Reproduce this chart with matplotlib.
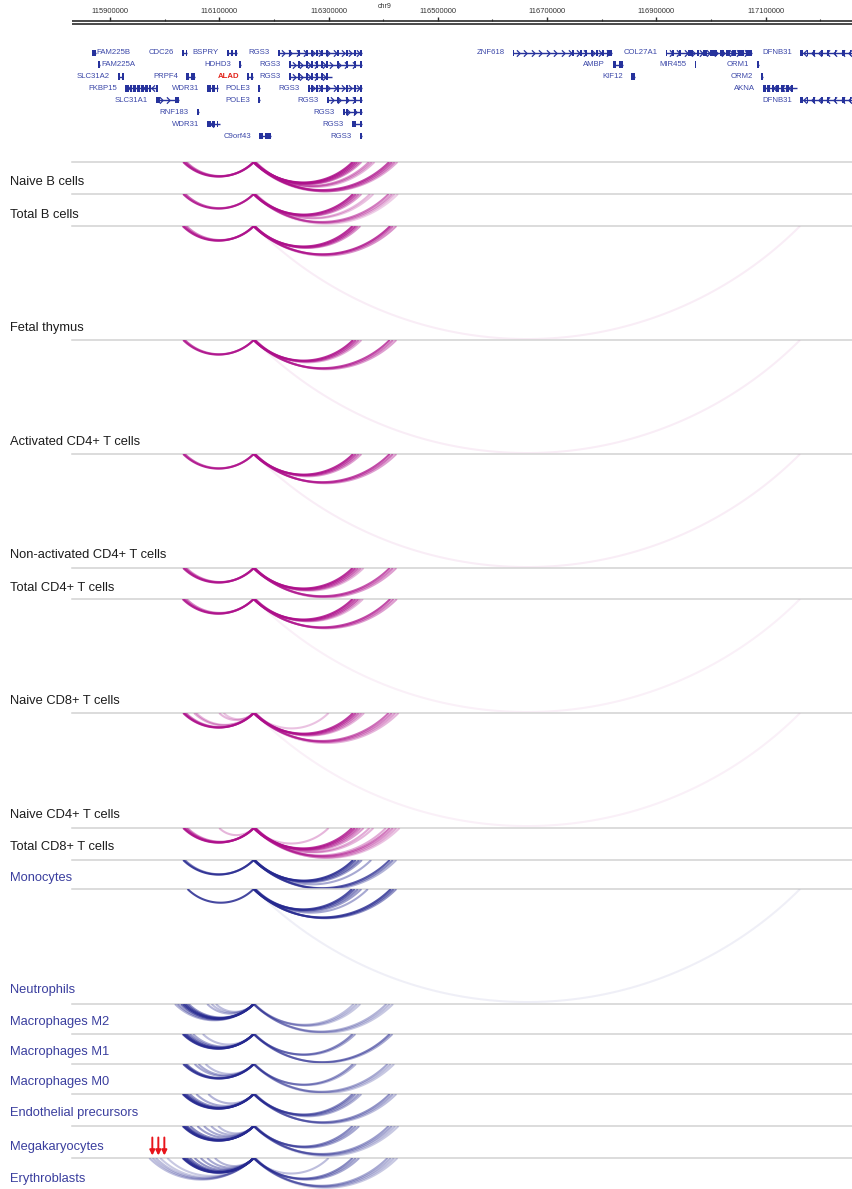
import numpy as np
import matplotlib
matplotlib.use("Agg")
import matplotlib.pyplot as plt
from matplotlib.patches import Rectangle
from matplotlib.path import Path

plt.rcParams['font.family'] = ['Liberation Sans', 'DejaVu Sans']

# ---------------------------------------------------------------- data ----
# genomic window (bp) on chr9
REGION_START = 115830500
REGION_END = 117258000
CHROM = "chr9"

MAJOR_TICKS = [115900000, 116100000, 116300000, 116500000,
               116700000, 116900000, 117100000]
MINOR_TICKS = [116000000, 116200000, 116400000, 116600000,
               116800000, 117000000, 117200000]

# gene models (kb) : name, start, end, strand, row
gene_names = ["FAM225B", "CDC26", "BSPRY", "RGS3", "ZNF618", "COL27A1", "DFNB31",
              "FAM225A", "HDHD3", "RGS3", "AMBP", "MIR455", "ORM1",
              "SLC31A2", "PRPF4", "ALAD", "RGS3", "KIF12", "ORM2",
              "FKBP15", "WDR31", "POLE3", "RGS3", "AKNA",
              "SLC31A1", "POLE3", "RGS3", "DFNB31",
              "RNF183", "RGS3",
              "WDR31", "RGS3",
              "C9orf43", "RGS3"]
gene_starts = [115867.0, 116032.0, 116114.0, 116207.0, 116637.0, 116917.0, 117163.0,
               115878.0, 116136.0, 116227.6, 116820.5, 116970.0, 117084.0,
               115914.6, 116039.0, 116150.7, 116227.6, 116853.4, 117091.3,
               115927.5, 116077.5, 116170.8, 116262.3, 117095.0,
               115984.0, 116170.8, 116297.1, 117163.0,
               116059.0, 116326.4,
               116077.5, 116342.9,
               116172.7, 116357.5]
gene_ends = [115874.0, 116041.0, 116132.0, 116361.2, 116819.0, 117075.0, 117262.0,
             115882.0, 116140.0, 116361.2, 116839.0, 116971.0, 117088.0,
             115923.8, 116055.5, 116161.7, 116306.3, 116860.7, 117095.0,
             115986.0, 116097.6, 116174.5, 116361.2, 117157.0,
             116026.0, 116174.5, 116361.2, 117262.0,
             116063.0, 116361.2,
             116101.0, 116361.2,
             116194.6, 116361.2]
gene_strands = ["-", "-", "+", "+", "+", "+", "-",
                "+", "-", "+", "-", "+", "+",
                "+", "+", "-", "+", "-", "+",
                "-", "-", "-", "+", "-",
                "+", "-", "+", "-",
                "-", "+",
                "-", "+",
                "+", "+"]
gene_rows = [0, 0, 0, 0, 0, 0, 0,
             1, 1, 1, 1, 1, 1,
             2, 2, 2, 2, 2, 2,
             3, 3, 3, 3, 3,
             4, 4, 4, 4,
             5, 5,
             6, 6,
             7, 7]
HIGHLIGHT_GENE = "ALAD"
LABEL_RIGHT_GENES = ["FAM225B", "FAM225A"]

# exon blocks (kb)
RGS3_EXONS = [(116207.0, 116209.5), (116228.5, 116231.0), (116245.0, 116247.5),
              (116259.5, 116262.0), (116268.5, 116271.0), (116277.5, 116280.5),
              (116287.0, 116289.5), (116296.0, 116298.5), (116316.0, 116318.5),
              (116332.5, 116335.0), (116347.0, 116350.0), (116357.5, 116361.2)]
gene_exons = {
    "CDC26": [(116032.0, 116034.5), (116038.5, 116041.0)],
    "BSPRY": [(116114.0, 116117.0), (116121.0, 116124.0), (116129.0, 116132.0)],
    "ZNF618": [(116637.0, 116640.0), (116746.0, 116748.5), (116760.0, 116764.0),
               (116769.0, 116773.0), (116781.0, 116783.0), (116790.0, 116792.5),
               (116801.0, 116803.5), (116810.0, 116819.0)],
    "COL27A1": [(116917.0, 116920.0), (116929.0, 116931.5), (116942.0, 116944.5),
                (116957.0, 116967.0), (116975.0, 116977.5), (116985.0, 116992.5),
                (116998.0, 117011.0), (117016.0, 117023.0), (117027.0, 117034.0),
                (117038.0, 117046.0), (117050.0, 117060.0), (117064.0, 117075.0)],
    "DFNB31": [(117163.0, 117168.0), (117175.0, 117176.5), (117187.5, 117189.0),
               (117202.0, 117204.0), (117213.0, 117215.0), (117226.0, 117228.0),
               (117239.5, 117245.0), (117253.5, 117255.5)],
    "AMBP": [(116820.5, 116826.0), (116832.0, 116839.0)],
    "SLC31A2": [(115914.6, 115917.0), (115921.5, 115923.8)],
    "PRPF4": [(116039.0, 116045.0), (116048.5, 116055.5)],
    "ALAD": [(116150.7, 116154.5), (116157.5, 116161.7)],
    "FKBP15": [(115927.5, 115934.0), (115936.0, 115941.0), (115943.0, 115948.0),
               (115950.0, 115955.0), (115957.5, 115962.0), (115965.0, 115969.0),
               (115971.0, 115974.0), (115984.0, 115986.0)],
    "WDR31": [(116077.5, 116084.0), (116087.0, 116093.0), (116095.0, 116097.6)],
    "AKNA": [(117095.0, 117100.0), (117103.0, 117108.0), (117111.0, 117116.0),
             (117119.0, 117125.0), (117128.0, 117134.0), (117137.0, 117143.0),
             (117146.0, 117149.0)],
    "SLC31A1": [(115984.0, 115991.0), (116019.0, 116026.0)],
    "C9orf43": [(116172.7, 116180.0), (116184.0, 116194.6)],
}

# chromatin interactions per cell type (kb): start, end, score
naive_b_cells = [
    (116034, 116163, .85), (116037, 116163, .70), (116040, 116164, .55),
    (116163, 116344, .85), (116163, 116348, .75), (116164, 116352, .70),
    (116162, 116356, .55), (116165, 116360, .45),
    (116163, 116374, .45), (116166, 116379, .40), (116163, 116384, .30),
    (116163, 116411, .75), (116164, 116416, .65), (116162, 116421, .50),
    (116167, 116426, .35)]
total_b_cells = [
    (116034, 116163, .85), (116038, 116163, .65),
    (116163, 116345, .85), (116164, 116350, .70), (116162, 116355, .55),
    (116165, 116360, .40), (116163, 116376, .30), (116167, 116382, .25),
    (116163, 116410, .55), (116164, 116416, .40), (116166, 116421, .30),
    (116163, 116427, .20)]
fetal_thymus = [
    (116033, 116163, .85), (116036, 116163, .70), (116040, 116164, .50),
    (116163, 116344, .85), (116164, 116349, .75), (116162, 116353, .60),
    (116165, 116358, .45),
    (116163, 116413, .80), (116165, 116418, .60), (116163, 116424, .45),
    (116164, 117163, .07)]
activated_cd4_t_cells = [
    (116034, 116163, .85), (116037, 116163, .70),
    (116163, 116345, .85), (116163, 116350, .70), (116165, 116355, .55),
    (116163, 116360, .35),
    (116163, 116412, .75), (116165, 116418, .55), (116166, 116424, .40),
    (116164, 117163, .07)]
non_activated_cd4_t_cells = [
    (116034, 116163, .85), (116037, 116163, .65),
    (116163, 116345, .85), (116164, 116350, .70), (116165, 116355, .55),
    (116163, 116360, .40),
    (116163, 116412, .75), (116165, 116418, .60), (116166, 116424, .40),
    (116164, 117163, .07)]
total_cd4_t_cells = [
    (116034, 116163, .85), (116037, 116163, .70), (116040, 116164, .50),
    (116163, 116344, .85), (116164, 116349, .75), (116162, 116354, .60),
    (116165, 116359, .45), (116163, 116364, .30),
    (116163, 116412, .70), (116165, 116418, .55), (116164, 116424, .40)]
naive_cd8_t_cells = [
    (116033, 116163, .85), (116036, 116163, .70), (116040, 116163, .50),
    (116163, 116344, .85), (116163, 116349, .70), (116165, 116354, .60),
    (116163, 116358, .40), (116166, 116363, .30),
    (116163, 116413, .75), (116164, 116419, .55), (116166, 116425, .40),
    (116164, 117163, .06)]
naive_cd4_t_cells = [
    (116034, 116163, .85), (116036, 116163, .70), (116039, 116164, .55),
    (116054, 116163, .35), (116058, 116163, .30),
    (116100, 116162, .30), (116108, 116163, .25), (116164, 116300, .25),
    (116163, 116345, .80), (116163, 116350, .70), (116165, 116355, .55),
    (116163, 116360, .40), (116166, 116365, .30),
    (116163, 116410, .60), (116164, 116416, .50), (116166, 116422, .40),
    (116163, 116428, .30),
    (116164, 117163, .06)]
total_cd8_t_cells = [
    (116034, 116163, .85), (116036, 116163, .75), (116039, 116164, .60),
    (116042, 116163, .45),
    (116100, 116163, .30), (116163, 116300, .30),
    (116163, 116343, .80), (116163, 116348, .75), (116165, 116353, .60),
    (116164, 116358, .50), (116166, 116364, .40),
    (116163, 116375, .35), (116167, 116382, .30),
    (116163, 116405, .35), (116164, 116412, .55), (116166, 116418, .45),
    (116163, 116424, .35), (116165, 116430, .25)]
monocytes = [
    (116034, 116163, .85), (116037, 116163, .60),
    (116163, 116345, .85), (116164, 116350, .70), (116165, 116356, .60),
    (116163, 116361, .45), (116163, 116378, .40),
    (116163, 116412, .75), (116165, 116418, .55), (116164, 116424, .35)]
neutrophils = [
    (116042, 116163, .85),
    (116163, 116343, .80), (116164, 116348, .70), (116166, 116354, .55),
    (116163, 116360, .45), (116163, 116372, .40),
    (116163, 116414, .80), (116164, 116419, .65), (116166, 116424, .50),
    (116164, 117163, .07)]
macrophages_m2 = [
    (116019, 116163, .35), (116024, 116163, .45), (116030, 116163, .70),
    (116034, 116163, .80), (116037, 116163, .70), (116040, 116164, .60),
    (116044, 116163, .50),
    (116078, 116163, .35), (116086, 116163, .30), (116094, 116163, .30),
    (116163, 116346, .30), (116163, 116352, .30), (116165, 116358, .25),
    (116163, 116406, .35), (116164, 116412, .30), (116163, 116418, .25)]
macrophages_m1 = [
    (116033, 116163, .80), (116035, 116163, .75), (116038, 116163, .70),
    (116041, 116164, .60), (116046, 116163, .50), (116052, 116163, .40),
    (116070, 116163, .30),
    (116163, 116344, .55), (116164, 116349, .40),
    (116163, 116412, .60), (116165, 116417, .40)]
macrophages_m0 = [
    (116034, 116163, .80), (116037, 116163, .70), (116040, 116164, .60),
    (116055, 116163, .40), (116062, 116163, .40), (116075, 116163, .30),
    (116163, 116345, .50), (116164, 116350, .35),
    (116163, 116408, .40), (116165, 116414, .30), (116163, 116420, .25)]
endothelial_precursors = [
    (116033, 116163, .85), (116035, 116163, .80), (116038, 116163, .70),
    (116041, 116164, .60), (116046, 116163, .50), (116058, 116163, .40),
    (116080, 116163, .35),
    (116163, 116344, .55), (116164, 116349, .50), (116165, 116355, .40),
    (116163, 116360, .35),
    (116163, 116412, .50), (116164, 116418, .40), (116166, 116424, .30)]
megakaryocytes = [
    (116033, 116163, .85), (116035, 116163, .80), (116038, 116163, .75),
    (116041, 116164, .65), (116047, 116163, .55), (116060, 116163, .45),
    (116072, 116163, .40), (116085, 116163, .35), (116098, 116163, .30),
    (116163, 116344, .55), (116164, 116350, .45), (116165, 116356, .40),
    (116163, 116410, .45), (116164, 116416, .40), (116166, 116422, .30),
    (116163, 116428, .25)]
erythroblasts = [
    (115972, 116163, .30), (115978, 116163, .30), (115984, 116163, .30),
    (115992, 116163, .25), (116005, 116163, .25),
    (116033, 116163, .85), (116035, 116163, .80), (116038, 116163, .75),
    (116041, 116164, .70), (116046, 116163, .60), (116055, 116163, .50),
    (116066, 116163, .45), (116078, 116163, .40), (116092, 116163, .35),
    (116163, 116300, .30),
    (116163, 116344, .55), (116164, 116350, .45), (116165, 116356, .40),
    (116163, 116408, .40), (116164, 116414, .35), (116166, 116420, .30),
    (116163, 116426, .25)]

track_labels = ["Naive B cells", "Total B cells", "Fetal thymus",
                "Activated CD4+ T cells", "Non-activated CD4+ T cells",
                "Total CD4+ T cells", "Naive CD8+ T cells", "Naive CD4+ T cells",
                "Total CD8+ T cells", "Monocytes", "Neutrophils",
                "Macrophages M2", "Macrophages M1", "Macrophages M0",
                "Endothelial precursors", "Megakaryocytes", "Erythroblasts"]
track_data = [naive_b_cells, total_b_cells, fetal_thymus, activated_cd4_t_cells,
              non_activated_cd4_t_cells, total_cd4_t_cells, naive_cd8_t_cells,
              naive_cd4_t_cells, total_cd8_t_cells, monocytes, neutrophils,
              macrophages_m2, macrophages_m1, macrophages_m0,
              endothelial_precursors, megakaryocytes, erythroblasts]
track_lineage = ["lymphoid"] * 9 + ["myeloid"] * 8

# marked anchors (kb) in the megakaryocyte track
arrow_positions = [115977.5, 115988.5, 115999.5]

# ------------------------------------------------------------- styling ----
W, H = 852, 1189
LEFT_PX, RIGHT_PX = 72, 852
PX_PER_BP = (RIGHT_PX - LEFT_PX) / (REGION_END - REGION_START)

ARC_COLORS = {"lymphoid": "#AD0E8A", "myeloid": "#25288F"}
LABEL_COLORS = {"lymphoid": "#1c1c1c", "myeloid": "#3A3E9E"}
GENE_COLOR = "#26329C"
GENE_LABEL_COLOR = "#3B47A8"
HIGHLIGHT_COLOR = "#E2231A"
BASELINE_COLOR = "#d2d2d2"

# vertical layout (pixels from the top)
track_tops = [162, 194, 226, 340, 454, 568, 599, 713, 828, 860, 889,
              1004, 1034, 1064, 1094, 1126, 1158]
label_centres = [182, 215, 328, 442, 555, 588, 701, 815, 847, 878, 990,
                 1022, 1052, 1082, 1113, 1147, 1179]

fig = plt.figure(figsize=(W / 100, H / 100), dpi=100)


def px_axes(y0, h, x0=LEFT_PX, w=RIGHT_PX - LEFT_PX):
    ax = fig.add_axes([x0 / W, 1 - (y0 + h) / H, w / W, h / H])
    ax.set_xlim(REGION_START, REGION_END)
    ax.set_ylim(h, 0)
    ax.axis("off")
    return ax


def bp_per_px(n):
    return n / PX_PER_BP


# --------------------------------------------------------------- ruler ----
ax_r = px_axes(0, 40)
ax_r.hlines([21.2, 24.2], REGION_START, REGION_END, color="#2a2a2a", lw=1.2)
ax_r.vlines(MAJOR_TICKS, 16.5, 21.2, color="#2a2a2a", lw=1.0)
ax_r.vlines(MINOR_TICKS, 19.0, 21.2, color="#2a2a2a", lw=0.8)
for t in MAJOR_TICKS:
    ax_r.text(t, 11.5, f"{t}", ha="center", va="center", fontsize=5.4,
              color="#333333")
ax_r.text((385 - LEFT_PX) / (RIGHT_PX - LEFT_PX), 34 / 40, CHROM,
          transform=ax_r.transAxes, ha="center", va="center", fontsize=5,
          color="#333333")

# --------------------------------------------------------------- genes ----
ax_g = px_axes(40, 110)
chev_r = Path([(-0.5, 1.0), (0.5, 0.0), (-0.5, -1.0)],
              [Path.MOVETO, Path.LINETO, Path.LINETO])
chev_l = Path([(0.5, 1.0), (-0.5, 0.0), (0.5, -1.0)],
              [Path.MOVETO, Path.LINETO, Path.LINETO])
min_w = bp_per_px(1.8)
for name, s, e, strand, row in zip(gene_names, gene_starts, gene_ends,
                                   gene_strands, gene_rows):
    s_bp, e_bp = s * 1000, e * 1000
    y = 12.7 + 11.9 * row
    ax_g.plot([s_bp, e_bp], [y, y], color=GENE_COLOR, lw=1.0,
              solid_capstyle="butt")
    span_px = (e_bp - s_bp) * PX_PER_BP
    if span_px > 12:
        xs = np.arange(s_bp + bp_per_px(5), e_bp - bp_per_px(3), bp_per_px(7.5))
        ax_g.plot(xs, np.full(len(xs), y), ls="none",
                  marker=chev_r if strand == "+" else chev_l, ms=4.6,
                  mew=0.9, mfc="none", mec=GENE_COLOR)
    if name == "RGS3":
        blocks = [(a, b) for a, b in RGS3_EXONS if b > s and a < e]
        blocks = [(max(a, s), min(b, e)) for a, b in blocks]
        blocks.append((s, s + 1.0))
    else:
        blocks = gene_exons.get(name, [(s, e)])
    for a, b in blocks:
        a_bp, b_bp = a * 1000, b * 1000
        wdt = max(b_bp - a_bp, min_w)
        ax_g.add_patch(Rectangle((a_bp, y - 3.2), wdt, 6.4, color=GENE_COLOR,
                                 lw=0))
    if name == HIGHLIGHT_GENE:
        kw = dict(color=HIGHLIGHT_COLOR, fontweight="bold")
    else:
        kw = dict(color=GENE_LABEL_COLOR)
    if name in LABEL_RIGHT_GENES:
        ax_g.text(e_bp + bp_per_px(1), y, name, ha="left", va="center",
                  fontsize=5.6, **kw)
    else:
        ax_g.text(s_bp - bp_per_px(8), y, name, ha="right", va="center",
                  fontsize=5.6, **kw)

# ---------------------------------------------------------- arc tracks ----
theta = np.linspace(-np.pi / 4, np.pi / 4, 90)
track_bottoms = track_tops[1:] + [H]
for i, (label, data, lineage) in enumerate(zip(track_labels, track_data,
                                               track_lineage)):
    top, bottom = track_tops[i], track_bottoms[i]
    ax = px_axes(top, bottom - top)
    ax.plot([REGION_START, REGION_END], [0, 0], color=BASELINE_COLOR,
            lw=1.1, clip_on=False, zorder=1)
    colour = ARC_COLORS[lineage]
    for s, e, score in data:
        s_bp, e_bp = s * 1000, e * 1000
        chord = (e_bp - s_bp) * PX_PER_BP
        radius = chord / (2 * np.sin(np.pi / 4))
        xs = (s_bp + e_bp) / 2 + np.sin(theta) * radius / PX_PER_BP
        ys = radius * np.cos(theta) - radius * np.cos(np.pi / 4)
        ax.plot(xs, ys, color=colour, alpha=score, lw=1.5,
                solid_capstyle="butt", zorder=2)
    fig.text(10 / W, 1 - label_centres[i] / H, label, fontsize=9.3,
             va="center", ha="left", color=LABEL_COLORS[lineage])
    if label == "Megakaryocytes":
        for a in arrow_positions:
            ax.annotate("", xy=(a * 1000, 29.5), xytext=(a * 1000, 11.5),
                        arrowprops=dict(arrowstyle="-|>", color="#E8141B",
                                        lw=1.4, mutation_scale=7.5,
                                        shrinkA=0, shrinkB=0))

fig.savefig("out.png", dpi=100)
